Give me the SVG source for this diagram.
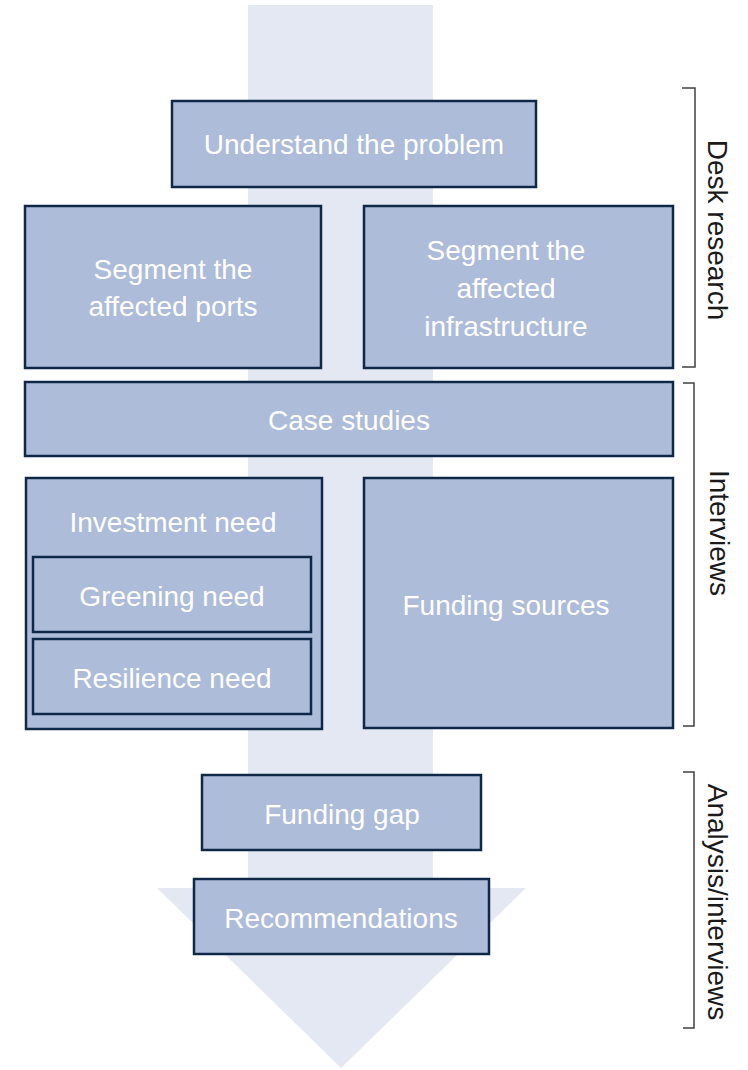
<svg xmlns="http://www.w3.org/2000/svg" width="748" height="1070" viewBox="0 0 748 1070">
<style>
.box{fill:#adbcd9;stroke:#102848;stroke-width:2.5}
.t{font-family:"Liberation Sans",Arial,sans-serif;font-size:28px;fill:#ffffff;text-anchor:middle}
.lbl{font-family:"Liberation Sans",Arial,sans-serif;font-size:28px;fill:#1a1a1a;text-anchor:middle;dominant-baseline:central}
.br{fill:none;stroke:#404040;stroke-width:1.5}
</style>
<rect width="748" height="1070" fill="#ffffff"/>
<g id="flow-arrow">
<polygon points="248,5 433,5 433,888 526,888 341,1068 157,888 248,888" fill="#e4e8f2"/>
</g>
<g id="connectors">
<path class="br" d="M682,88 H695 V367 H682"/>
<path class="br" d="M683,383 H694 V726 H683"/>
<path class="br" d="M683,772 H694 V1028 H683"/>
</g>
<g id="understand">
<rect class="box" x="172" y="101" width="364" height="86"/>
<text class="t" x="354" y="154">Understand the problem</text>
</g>
<g id="segment-ports">
<rect class="box" x="25" y="206" width="296" height="162"/>
<text class="t" x="173" y="279">Segment the</text>
<text class="t" x="173" y="316">affected ports</text>
</g>
<g id="segment-infra">
<rect class="box" x="364" y="206" width="309" height="162"/>
<text class="t" x="506" y="260">Segment the</text>
<text class="t" x="506" y="298">affected</text>
<text class="t" x="506" y="336">infrastructure</text>
</g>
<g id="case-studies">
<rect class="box" x="25" y="382" width="648" height="74"/>
<text class="t" x="349" y="430">Case studies</text>
</g>
<g id="investment-need">
<rect class="box" x="26" y="478" width="296" height="251"/>
<text class="t" x="173" y="532">Investment need</text>
</g>
<g id="greening-need">
<rect class="box" x="33" y="557" width="278" height="75"/>
<text class="t" x="172" y="606">Greening need</text>
</g>
<g id="resilience-need">
<rect class="box" x="33" y="639" width="278" height="75"/>
<text class="t" x="172" y="688">Resilience need</text>
</g>
<g id="funding-sources">
<rect class="box" x="364" y="478" width="309" height="250"/>
<text class="t" x="506" y="615">Funding sources</text>
</g>
<g id="funding-gap">
<rect class="box" x="202" y="775" width="279" height="75"/>
<text class="t" x="342" y="824">Funding gap</text>
</g>
<g id="recommendations">
<rect class="box" x="194" y="879" width="295" height="75"/>
<text class="t" x="341" y="928">Recommendations</text>
</g>
<g id="labels">
<text class="lbl" transform="translate(717,230) rotate(90)">Desk research</text>
<text class="lbl" transform="translate(719,533) rotate(90)">Interviews</text>
<text class="lbl" transform="translate(717,902) rotate(90)">Analysis/interviews</text>
</g>
</svg>
